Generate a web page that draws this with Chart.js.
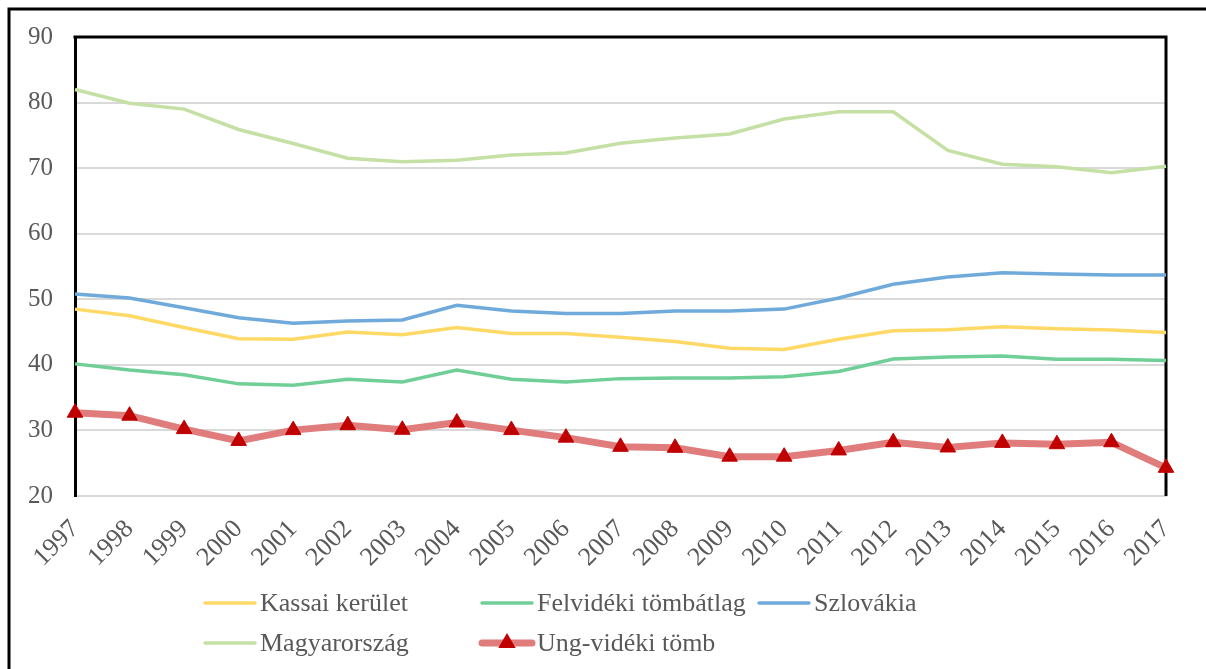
<!DOCTYPE html>
<html>
<head>
<meta charset="utf-8">
<script src="https://cdn.jsdelivr.net/npm/chart.js@4.4.0/dist/chart.umd.min.js"></script>
<style>
  html, body { margin: 0; padding: 0; background: #fff; }
  #wrap { width: 1206px; height: 669px; position: relative; }
</style>
</head>
<body>
<div id="wrap"><canvas id="chart"></canvas></div>
<script>
const years = ["1997", "1998", "1999", "2000", "2001", "2002", "2003", "2004", "2005", "2006", "2007",
  "2008", "2009", "2010", "2011", "2012", "2013", "2014", "2015", "2016", "2017"];

const kassai = [48.5, 47.5, 45.7, 44.0, 43.9, 45.0, 44.6, 45.7, 44.8, 44.8, 44.2,
  43.55, 42.55, 42.35, 43.9, 45.2, 45.35, 45.8, 45.5, 45.3, 44.95];
const felvideki = [40.15, 39.2, 38.5, 37.1, 36.9, 37.8, 37.4, 39.2, 37.8, 37.4, 37.9,
  38.0, 38.0, 38.2, 39.0, 40.9, 41.2, 41.35, 40.85, 40.85, 40.65];
const szlovakia = [50.8, 50.2, 48.7, 47.2, 46.35, 46.7, 46.85, 49.1, 48.2, 47.85, 47.85,
  48.2, 48.2, 48.5, 50.2, 52.3, 53.4, 54.05, 53.85, 53.7, 53.7];
const magyar = [82.0, 79.9, 79.0, 75.9, 73.75, 71.5, 70.96, 71.2, 72.0, 72.3, 73.8,
  74.6, 75.2, 77.5, 78.6, 78.6, 72.7, 70.6, 70.2, 69.3, 70.3];
const ung = [32.7, 32.25, 30.2, 28.4, 30.05, 30.8, 30.1, 31.2, 30.05, 28.9, 27.5,
  27.35, 26.0, 26.0, 26.95, 28.2, 27.4, 28.1, 27.9, 28.2, 24.3];

const serif = "'Liberation Serif', 'Times New Roman', serif";
const textColor = "#595959";

Chart.defaults.font.family = serif;
Chart.defaults.color = textColor;

// keretek: külső keret + a rajzterület fekete széle (fent, jobbra)
const frames = {
  id: "frames",
  beforeDatasetsDraw(chart) {
    const { ctx, chartArea: a } = chart;
    ctx.save();
    ctx.strokeStyle = "#000";
    ctx.lineWidth = 3;
    ctx.beginPath();
    ctx.moveTo(a.left - 1.5, a.top);
    ctx.lineTo(a.right, a.top);
    ctx.lineTo(a.right, a.bottom);
    ctx.stroke();
    ctx.beginPath();
    ctx.moveTo(1206, 9);
    ctx.lineTo(9, 9);
    ctx.lineTo(9, 669);
    ctx.stroke();
    ctx.restore();
  }
};

// jelmagyarázat oszlopokba rendezve, mint az Excelben
const legendPos = [[203, 603], [480, 603], [757, 603], [203, 643], [480, 643]];
const legendOrder = [0, 1, 2, 3, 4];
const columnLegend = {
  id: "columnLegend",
  afterDraw(chart) {
    const { ctx } = chart;
    ctx.save();
    ctx.font = "26px " + serif;
    ctx.textBaseline = "middle";
    ctx.fillStyle = textColor;
    legendOrder.forEach((di, i) => {
      const ds = chart.data.datasets[di];
      const [x, y] = legendPos[i];
      ctx.strokeStyle = ds.borderColor;
      ctx.lineWidth = ds.borderWidth;
      ctx.lineCap = "round";
      ctx.beginPath();
      ctx.moveTo(x + 2, y);
      ctx.lineTo(x + 52, y);
      ctx.stroke();
      if (ds.pointRadius > 0) {
        const r = ds.pointRadius + 1;
        ctx.fillStyle = ds.pointBackgroundColor;
        ctx.beginPath();
        ctx.moveTo(x + 27, y - r);
        ctx.lineTo(x + 27 + r * 0.87, y + r * 0.5);
        ctx.lineTo(x + 27 - r * 0.87, y + r * 0.5);
        ctx.closePath();
        ctx.fill();
        ctx.fillStyle = textColor;
      }
      ctx.fillText(ds.label, x + 57, y + 1);
    });
    ctx.restore();
  }
};

const thin = (label, data, color) => ({
  label: label,
  data: data,
  borderColor: color,
  backgroundColor: color,
  borderWidth: 3.5,
  pointRadius: 0,
  tension: 0,
  order: 1
});

new Chart(document.getElementById("chart"), {
  type: "line",
  data: {
    labels: years,
    datasets: [
      thin("Kassai kerület", kassai, "#FFD966"),
      thin("Felvidéki tömbátlag", felvideki, "#6FCF97"),
      thin("Szlovákia", szlovakia, "#6FAADB"),
      thin("Magyarország", magyar, "#C5E0A4"),
      {
        label: "Ung-vidéki tömb",
        data: ung,
        borderColor: "#E07C7C",
        backgroundColor: "#C00000",
        borderWidth: 7,
        pointStyle: "triangle",
        pointRadius: 9,
        pointBorderWidth: 1,
        pointBackgroundColor: "#C00000",
        pointBorderColor: "#C00000",
        tension: 0,
        order: 0
      }
    ]
  },
  options: {
    responsive: true,
    maintainAspectRatio: false,
    animation: false,
    layout: { padding: { top: 36, right: 40, left: 0, bottom: 0 } },
    plugins: {
      legend: { display: false },
      tooltip: { enabled: false }
    },
    scales: {
      x: {
        grid: { display: false },
        border: { display: true, color: "#D9D9D9", width: 2 },
        ticks: {
          autoSkip: false,
          minRotation: 45,
          maxRotation: 45,
          padding: 10,
          color: textColor,
          font: { size: 26 }
        },
        afterFit(scale) { scale.height = 173; }
      },
      y: {
        min: 20,
        max: 90,
        grid: { color: "#D9D9D9", lineWidth: 2, drawTicks: false },
        border: { display: true, color: "#000", width: 3 },
        ticks: {
          stepSize: 10,
          padding: 22,
          color: textColor,
          font: { size: 25 }
        },
        afterFit(scale) { scale.width = 75; }
      }
    }
  },
  plugins: [frames, columnLegend]
});
</script>
</body>
</html>
